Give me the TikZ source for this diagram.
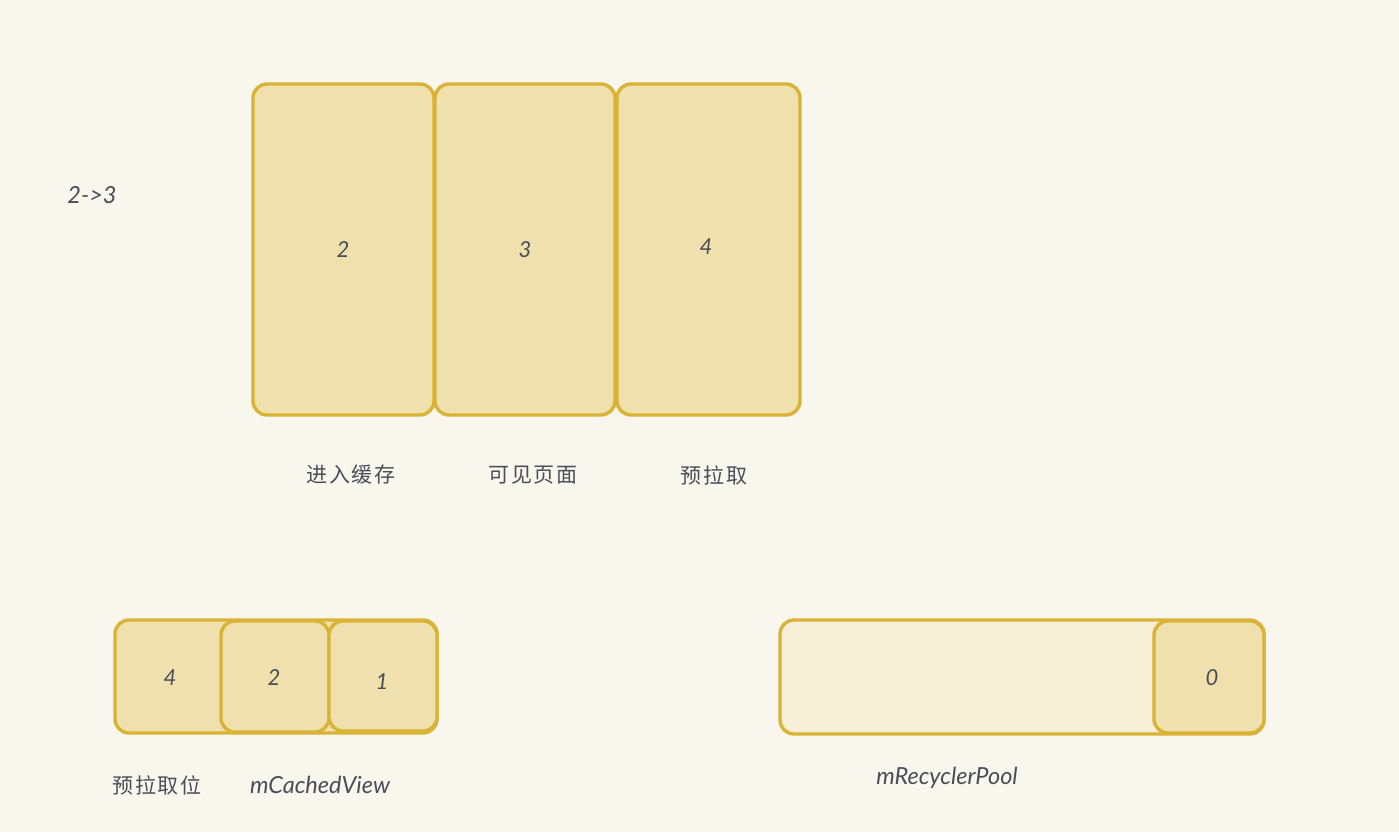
\documentclass[tikz,border=0pt]{standalone}
\usepackage{fontspec}
\setmainfont{Lato}
\newfontfamily\cjk[LetterSpace=8]{Noto Sans CJK SC}
\definecolor{bg}{HTML}{F9F6EE}
\definecolor{cellfill}{HTML}{EFE0AD}
\definecolor{poolfill}{HTML}{F7EFD8}
\definecolor{edge}{HTML}{D8B336}
\definecolor{ink}{HTML}{4A4E57}
\tikzset{
  cell/.style={draw=edge, fill=cellfill, line width=3.4pt, rounded corners=14pt},
  pool/.style={draw=edge, fill=poolfill, line width=3.4pt, rounded corners=14pt},
  num/.style={text=ink, font=\itshape\fontsize{22}{22}\selectfont},
  lbl/.style={text=ink, font=\itshape\fontsize{23.5}{23.5}\selectfont},
  cnlbl/.style={text=ink, font=\cjk\fontsize{21}{21}\selectfont},
}
\begin{document}
\begin{tikzpicture}[x=1pt,y=-1pt]
\path[fill=bg] (0,0) rectangle (1399,832);
\useasboundingbox (0,0) rectangle (1399,832);
% top row
\draw[cell] (253,84) rectangle (434,415);
\draw[cell] (435,84) rectangle (615,415);
\draw[cell] (617,84) rectangle (800,415);
\node[num] (n2) at (343,250) {2};
\node[num] (n3) at (525,250) {3};
\node[num] (n4) at (706,247) {4};
\node[lbl] (title) at (92,195) {2->3};
\node[cnlbl] (l1) at (351,475) {进入缓存};
\node[cnlbl] (l2) at (533,475) {可见页面};
\node[cnlbl] (l3) at (714,475) {预拉取};
% bottom left
\draw[cell] (115,620) rectangle (437,733);
\draw[cell] (221,621) rectangle (329,732);
\draw[cell] (329,621) rectangle (437,731);
\node[num] (c4) at (170,678) {4};
\node[num] (c2) at (274,678) {2};
\node[num] (c1) at (382,682) {1};
\node[cnlbl] (l4) at (157,785) {预拉取位};
\node[lbl] (l5) at (320,785) {mCachedView};
% bottom right
\draw[pool] (780,620) rectangle (1264,734);
\draw[cell] (1154,621) rectangle (1264,733);
\node[num] (c0) at (1212,678) {0};
\node[lbl] (l6) at (947,778) {mRecyclerPool};
\end{tikzpicture}
\end{document}
